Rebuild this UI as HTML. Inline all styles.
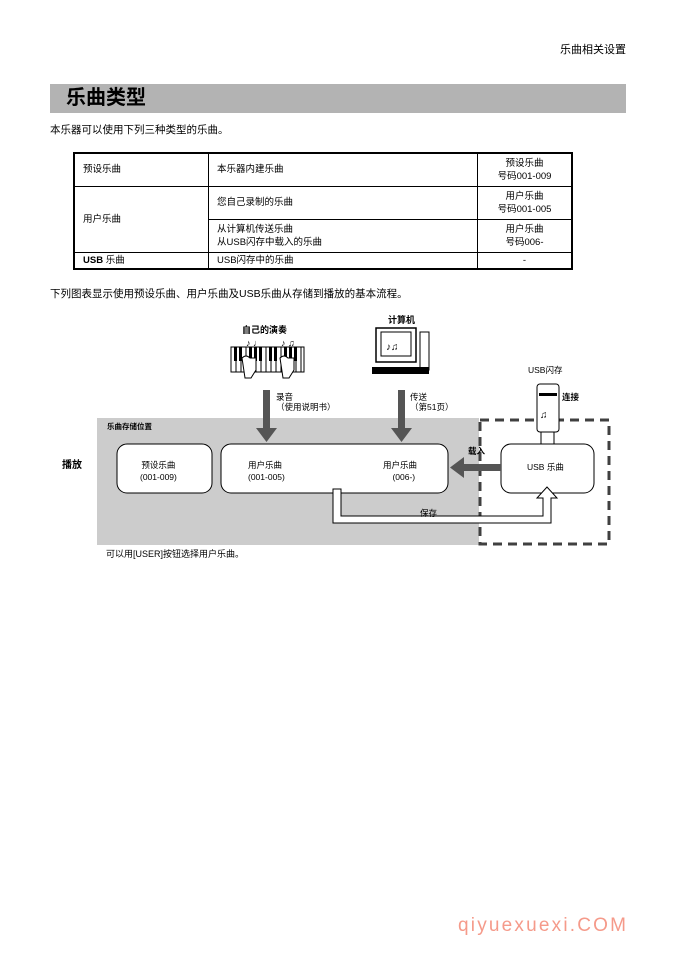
<!DOCTYPE html>
<html><head><meta charset="utf-8"><style>
body{margin:0;width:676px;height:957px;background:#fff;position:relative;font-family:"Liberation Sans","Noto Sans CJK SC",sans-serif;color:#000;overflow:hidden}
.a{position:absolute;white-space:nowrap;line-height:1}
.s{font-size:10px}
table{position:absolute;left:73px;top:152px;width:500px;border-collapse:collapse;font-size:9.5px}
td{border:1px solid #000;padding:0 8px;line-height:13px}
</style></head><body>
<div class="a" style="right:50px;top:45px;font-size:11px">乐曲相关设置</div>
<div class="a" style="left:50px;top:84px;width:576px;height:29px;background:#b3b3b3"></div>
<div class="a" style="left:66px;top:88px;font-size:20px;font-weight:bold">乐曲类型</div>
<div class="a" style="left:50px;top:125px;font-size:10.5px">本乐器可以使用下列三种类型的乐曲。</div>
<table style="border:2px solid #000">
<tr style="height:33px"><td style="width:117px">预设乐曲</td><td style="width:252px">本乐器内建乐曲</td><td style="text-align:center">预设乐曲<br>号码001-009</td></tr>
<tr style="height:33px"><td rowspan="2">用户乐曲</td><td>您自己录制的乐曲</td><td style="text-align:center">用户乐曲<br>号码001-005</td></tr>
<tr style="height:33px"><td>从计算机传送乐曲<br>从USB闪存中载入的乐曲</td><td style="text-align:center">用户乐曲<br>号码006-</td></tr>
<tr style="height:17px"><td><b>USB</b> 乐曲</td><td>USB闪存中的乐曲</td><td style="text-align:center">-</td></tr>
</table>
<div class="a" style="left:50px;top:289px;font-size:10.5px">下列图表显示使用预设乐曲、用户乐曲及USB乐曲从存储到播放的基本流程。</div>

<svg class="a" style="left:0;top:0" width="676" height="957">
<rect x="97" y="418" width="382" height="127" fill="#cccccc"/>
<rect x="480" y="420" width="129" height="124" fill="none" stroke="#404040" stroke-width="3" stroke-dasharray="9,6"/>
<rect x="117" y="444" width="95" height="49" rx="10" fill="#fff" stroke="#000"/>
<rect x="221" y="444" width="227" height="49" rx="10" fill="#fff" stroke="#000"/>
<rect x="501" y="444" width="93" height="49" rx="10" fill="#fff" stroke="#000"/>
<g fill="#555">
<rect x="263" y="390" width="7" height="40"/><polygon points="256,428 277,428 266.5,442"/>
<rect x="398" y="390" width="7" height="40"/><polygon points="391,428 412,428 401.5,442"/>
<rect x="462" y="464" width="39" height="7"/><polygon points="464,457 464,478 450,467.5"/>
</g>
<path d="M333,489 V523 H551 V498 H557 L547,487 L537,498 H543 V516 H341 V489 Z" fill="#fff" stroke="#000"/>
<rect x="231" y="347" width="73" height="25" fill="#fff" stroke="#000"/>
<g stroke="#000" stroke-width="1">
<path d="M236,347V372M241,347V372M246,347V372M251,347V372M256,347V372M261,347V372M266,347V372M271,347V372M276,347V372M281,347V372M286,347V372M291,347V372M296,347V372M301,347V372"/>
</g>
<g fill="#000"><rect x="234" y="347" width="3" height="14"/><rect x="239" y="347" width="3" height="14"/><rect x="249" y="347" width="3" height="14"/><rect x="254" y="347" width="3" height="14"/><rect x="259" y="347" width="3" height="14"/><rect x="269" y="347" width="3" height="14"/><rect x="274" y="347" width="3" height="14"/><rect x="284" y="347" width="3" height="14"/><rect x="289" y="347" width="3" height="14"/><rect x="294" y="347" width="3" height="14"/></g>
<path d="M242,358 q4,-4 8,0 l6,0 v12 l-5,8 h-6 z" fill="#fff" stroke="#000"/>
<path d="M280,358 q4,-4 8,0 l6,0 v12 l-5,8 h-6 z" fill="#fff" stroke="#000"/>
<text x="246" y="346" font-size="9">♪ ♩</text><text x="281" y="346" font-size="9">♪ ♫</text>
<rect x="376" y="328" width="40" height="34" fill="#fff" stroke="#000" stroke-width="1.5"/>
<rect x="381" y="332" width="30" height="24" fill="#fff" stroke="#000"/>
<text x="386" y="350" font-size="10">♪♫</text>
<rect x="420" y="332" width="9" height="38" fill="#fff" stroke="#000"/>
<rect x="372" y="367" width="57" height="7" fill="#000"/>
<rect x="537" y="384" width="22" height="48" rx="3" fill="#fff" stroke="#000"/>
<rect x="539" y="393" width="18" height="3" fill="#000"/>
<text x="540" y="418" font-size="10">♫</text>
<rect x="541" y="432" width="13" height="12" fill="#fff" stroke="#000"/>
</svg>

<div class="a s" style="left:242px;top:326px;font-size:9px;font-weight:bold">自己的演奏</div>
<div class="a s" style="left:388px;top:316px;font-size:9px;font-weight:bold">计算机</div>
<div class="a" style="left:528px;top:366px;font-size:8.5px">USB闪存</div>
<div class="a" style="left:562px;top:393px;font-size:8.5px;font-weight:bold">连接</div>
<div class="a" style="left:276px;top:392px;font-size:8.5px;line-height:10px">录音<br>（使用说明书）</div>
<div class="a" style="left:410px;top:392px;font-size:8.5px;line-height:10px">传送<br>（第51页）</div>
<div class="a" style="left:107px;top:423px;font-size:7.5px;font-weight:bold">乐曲存储位置</div>
<div class="a" style="left:62px;top:461px;font-size:10px;font-weight:bold">播放</div>
<div class="a" style="left:140px;top:459px;font-size:8.5px;text-align:center;line-height:12px">预设乐曲<br>(001-009)</div>
<div class="a" style="left:248px;top:459px;font-size:8.5px;line-height:12px">用户乐曲<br>(001-005)</div>
<div class="a" style="left:383px;top:459px;font-size:8.5px;line-height:12px">用户乐曲<br>&nbsp;&nbsp;&nbsp;&nbsp;(006-)</div>
<div class="a" style="left:527px;top:463px;font-size:8.5px">USB 乐曲</div>
<div class="a" style="left:468px;top:447px;font-size:8.5px;font-weight:bold">载入</div>
<div class="a" style="left:420px;top:509px;font-size:8.5px">保存</div>
<div class="a" style="left:106px;top:550px;font-size:9px">可以用[USER]按钮选择用户乐曲。</div>
<div class="a" style="left:458px;top:916px;font-size:19px;color:#f59a8a;letter-spacing:2.2px">qiyuexuexi.COM</div>
</body></html>
